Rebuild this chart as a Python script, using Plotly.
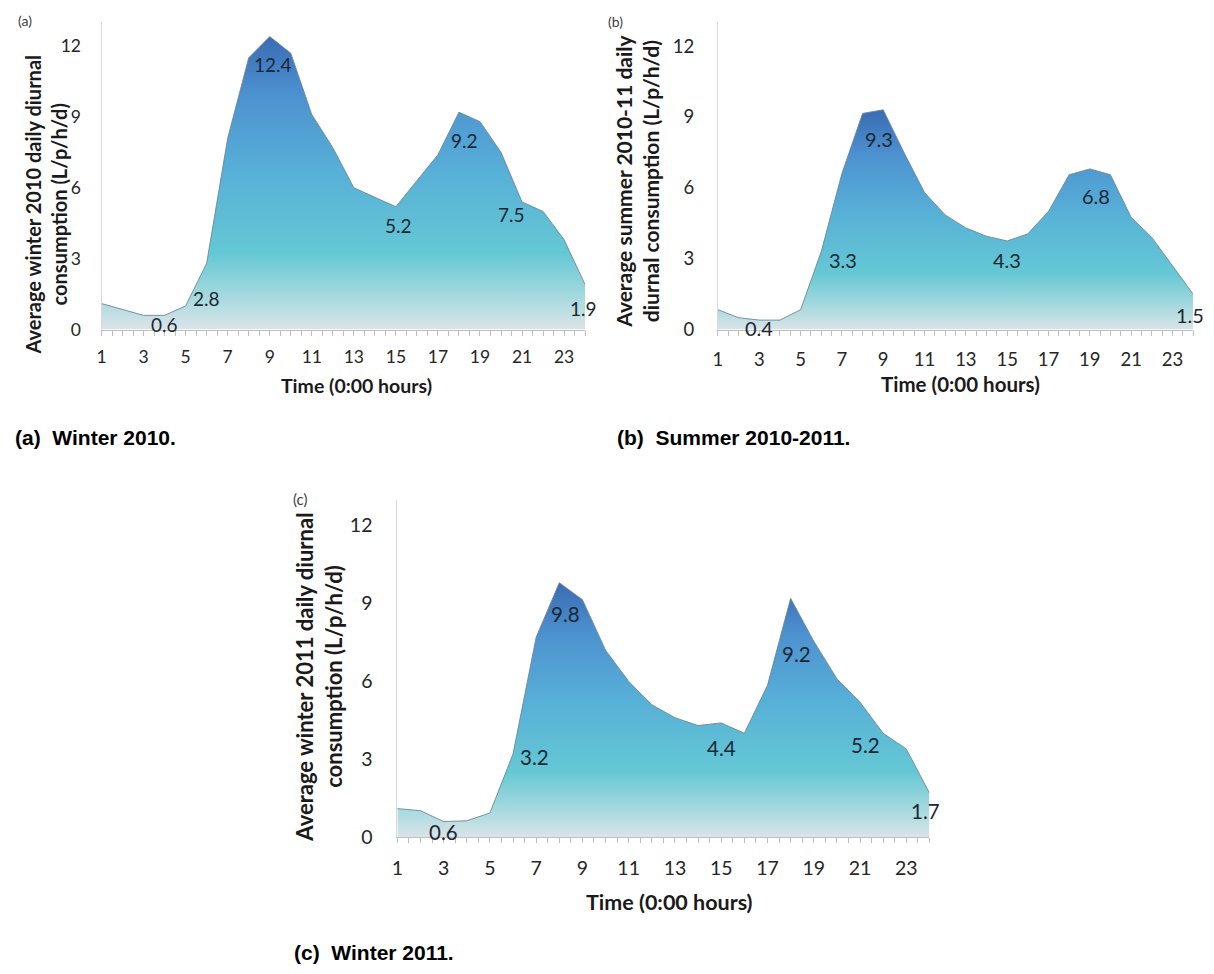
import plotly.graph_objects as go

# ---------------- data ----------------
hours = list(range(1, 25))
winter_2010 = [1.1, 0.85, 0.6, 0.6, 1.0, 2.8, 8.1, 11.5, 12.4, 11.7, 9.1, 7.7,
               6.0, 5.6, 5.2, 6.3, 7.4, 9.2, 8.8, 7.5, 5.4, 5.0, 3.8, 1.9]
summer_2010_11 = [0.84, 0.5, 0.4, 0.4, 0.84, 3.3, 6.6, 9.15, 9.3, 7.5, 5.8, 4.85,
                  4.3, 3.95, 3.75, 4.05, 5.0, 6.55, 6.8, 6.55, 4.75, 3.9, 2.7, 1.5]
winter_2011 = [1.1, 1.02, 0.6, 0.63, 0.93, 3.2, 7.7, 9.8, 9.15, 7.2, 6.0, 5.1,
               4.6, 4.3, 4.4, 4.0, 5.85, 9.2, 7.55, 6.1, 5.2, 4.0, 3.4, 1.7]

label_hours_a = [4, 6, 9, 15, 18, 20, 24]
label_text_a = ["0.6", "2.8", "12.4", "5.2", "9.2", "7.5", "1.9"]
label_hours_b = [3, 6, 9, 15, 19, 24]
label_text_b = ["0.4", "3.3", "9.3", "4.3", "6.8", "1.5"]
label_hours_c = [3, 6, 8, 15, 18, 21, 24]
label_text_c = ["0.6", "3.2", "9.8", "4.4", "9.2", "5.2", "1.7"]

y_ticks = [0, 3, 6, 9, 12]
x_title = "Time (0:00 hours)"
y_title_a = "Average winter 2010 daily diurnal<br>consumption (L/p/h/d)"
y_title_b = "Average summer 2010-11 daily<br>diurnal consumption (L/p/h/d)"
y_title_c = "Average winter 2011 daily diurnal<br>consumption (L/p/h/d)"
captions = ["(a)  Winter 2010.", "(b)  Summer 2010-2011.", "(c)  Winter 2011."]
panel_tags = ["(a)", "(b)", "(c)"]

# ---------------- styles ----------------
W, H = 1214, 974
FONT = "Lato"
GRAD = [[0.0, "#e3e5e9"], [0.08, "#b9dee2"], [0.27, "#64c8d4"],
        [0.55, "#57afd7"], [0.8, "#4d92d0"], [1.0, "#3a6cb4"]]

# label pixel offsets (style): (xshift, yshift)
shifts_a = [(0, -9), (0, -35), (3, -28), (3, -19), (6, -28), (10, -62), (-2, -24)]
shifts_b = [(0, -8), (22, -8), (-4, -29), (0, -19), (6, -27), (-3, -21)]
shifts_c = [(0, -10), (21, -3), (6, -31), (0, -25), (6, -56), (5, -43), (-4, -18)]

def px(x):
    return x / W

def py(y):
    return 1 - y / H

# panel geometry in pixels: (x_left, x_right, y_bottom, y_top)
geo = {
    "a": (96, 582, 333.3, 22.7),
    "b": (715.5, 1193, 333.3, 22.7),
    "c": (393.3, 928, 846.7, 505.4),
}
tick_sizes = {"a": 17.5, "b": 18.5, "c": 19.5}
label_sizes = {"a": 19, "b": 20, "c": 20.5}
x_standoff = {"a": 6, "b": 8, "c": 8}
y_standoff = {"a": 16, "b": 19, "c": 20}

fig = go.Figure()

panels = [
    ("a", "", winter_2010, label_hours_a, label_text_a, shifts_a),
    ("b", "2", summer_2010_11, label_hours_b, label_text_b, shifts_b),
    ("c", "3", winter_2011, label_hours_c, label_text_c, shifts_c),
]

annotations = []
for key, sfx, vals, lh, lt, sh in panels:
    xl, xr, yb, yt = geo[key]
    fig.add_trace(go.Scatter(
        x=hours, y=vals, mode="lines", fill="tozeroy",
        line=dict(color="#6e8796", width=0.9),
        fillgradient=dict(type="vertical", colorscale=GRAD, start=0, stop=max(vals)),
        xaxis="x" + sfx, yaxis="y" + sfx, showlegend=False, hoverinfo="x+y",
    ))
    fs = tick_sizes[key]
    fig.layout["xaxis" + sfx] = dict(
        domain=[px(xl), px(xr)], range=[1, 24], anchor="y" + sfx,
        tickmode="linear", tick0=1, dtick=2, ticks="outside", ticklen=5,
        tickcolor="#bfbfbf", showline=True, linecolor="#bfbfbf", linewidth=1,
        showgrid=False, zeroline=False,
        tickfont=dict(family=FONT, size=fs, color="#262626"),
        ticklabelstandoff=x_standoff[key],
        minor=dict(dtick=0.5, tick0=1, ticks="outside", ticklen=5, tickcolor="#bfbfbf"),
    )
    fig.layout["yaxis" + sfx] = dict(
        domain=[py(yb), py(yt)], range=[0, 13], anchor="x" + sfx,
        tickmode="array", tickvals=y_ticks, ticks="", showline=True,
        linecolor="#d9d9d9", linewidth=1, showgrid=False, zeroline=False,
        tickfont=dict(family=FONT, size=fs, color="#262626"),
        ticklabelstandoff=y_standoff[key],
    )
    for h, t, (xs, ys) in zip(lh, lt, sh):
        annotations.append(dict(
            x=h, y=vals[h - 1], xref="x" + sfx, yref="y" + sfx, text=t,
            showarrow=False, xshift=xs, yshift=ys, xanchor="center", yanchor="middle",
            font=dict(family=FONT, size=label_sizes[key], color="#1c2733"),
        ))

# axis titles, tags and captions
def txt(x, y, text, size, bold=True, angle=0, family=FONT, xanchor="center", color="#1a1a1a"):
    annotations.append(dict(
        x=px(x), y=py(y), xref="paper", yref="paper",
        text=f"<b>{text}</b>" if bold else text, showarrow=False,
        textangle=angle, xanchor=xanchor, yanchor="middle", align="center",
        font=dict(family=family, size=size, color=color),
    ))

txt(40, 207, y_title_a, 20, angle=-90)
txt(634, 183, y_title_b, 21, angle=-90)
txt(315, 685, y_title_c, 22, angle=-90)

txt(352, 390, x_title, 19.5)
txt(959, 388, x_title, 20.5)
txt(667, 912, x_title, 21.5)

txt(19, 21, panel_tags[0], 14, bold=False, color="#404040")
txt(613, 22, panel_tags[1], 14, bold=False, color="#404040")
txt(295, 505, panel_tags[2], 15, bold=False, color="#404040")

txt(7, 442, captions[0], 21, family="Liberation Sans", xanchor="left", color="#000000")
txt(612, 442, captions[1], 21, family="Liberation Sans", xanchor="left", color="#000000")
txt(287, 963, captions[2], 21, family="Liberation Sans", xanchor="left", color="#000000")

fig.update_layout(
    width=W, height=H, margin=dict(l=0, r=0, t=0, b=0),
    paper_bgcolor="white", plot_bgcolor="white",
    annotations=annotations, showlegend=False,
)

fig.write_html(
    "out.html",
    config={"displayModeBar": False},
    post_script="document.body.style.margin='0';document.body.style.overflow='hidden';",
)
